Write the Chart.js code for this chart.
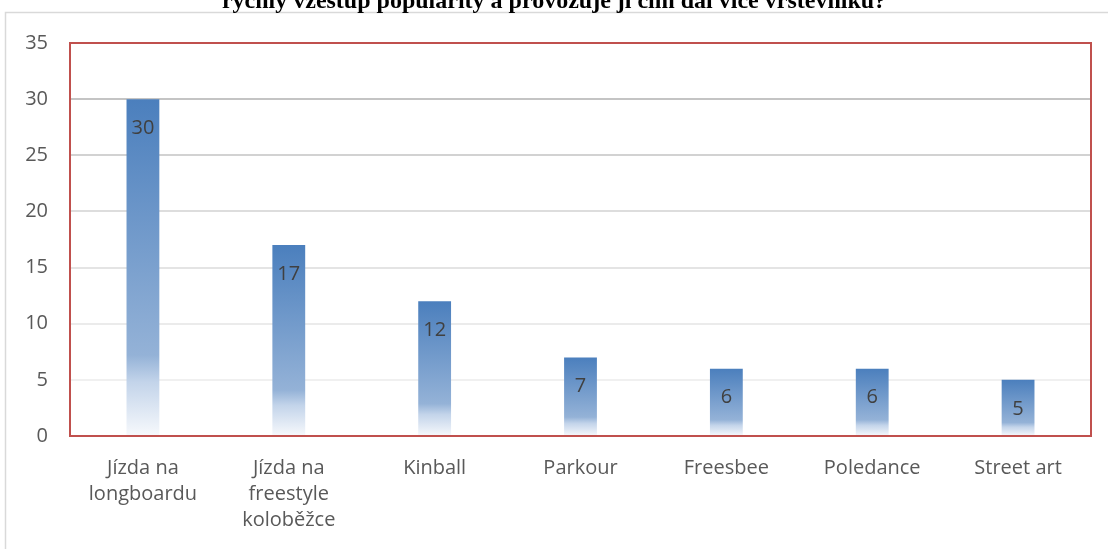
<!DOCTYPE html>
<html>
<head>
<meta charset="utf-8">
<script src="https://cdn.jsdelivr.net/npm/chart.js@4"></script>
<style>
html,body{margin:0;padding:0;background:#fff;}
#wrap{width:1108px;height:549px;position:relative;}
</style>
</head>
<body>
<div id="wrap"><canvas id="c" width="1108" height="549"></canvas></div>
<script>
const titleText = "rychlý vzestup popularity a provozuje ji čím dál více vrstevníků?";
const categories = [["Jízda na","longboardu"],["Jízda na","freestyle","koloběžce"],"Kinball","Parkour","Freesbee","Poledance","Street art"];
const values = [30,17,12,7,6,6,5];
const yTicks = [0,5,10,15,20,25,30,35];
const gridColors = {5:"#f0f0f0",10:"#ebebeb",15:"#e4e4e4",20:"#dddddd",25:"#d2d2d2",30:"#c4c4c4",35:"rgba(0,0,0,0)",0:"rgba(0,0,0,0)"};

const FONT = "'Open Sans', 'Liberation Sans', sans-serif";

function barGradient(context){
  const chart = context.chart;
  if (!chart.chartArea || context.type !== 'data') return '#4f81bd';
  const ys = chart.scales.y;
  const top = ys.getPixelForValue(context.raw);
  const bottom = ys.getPixelForValue(0);
  if (!isFinite(top) || !isFinite(bottom) || top === bottom) return '#4f81bd';
  const g = chart.ctx.createLinearGradient(0, top, 0, bottom);
  g.addColorStop(0, '#4b7fbd');
  g.addColorStop(0.76, '#94b2d7');
  g.addColorStop(0.84, '#c3d4ea');
  g.addColorStop(1, '#f7f9fc');
  return g;
}

const decor = {
  id: 'decor',
  beforeDraw(chart){
    const c = chart.ctx;
    c.save();
    c.fillStyle = '#fff';
    c.fillRect(0,0,chart.width,chart.height);
    c.strokeStyle = '#d9d9d9';
    c.lineWidth = 1.5;
    c.strokeRect(5.5, 12.5, chart.width + 10, chart.height + 10);
    c.fillStyle = '#000';
    c.font = "bold 24px 'Liberation Serif', serif";
    c.textAlign = 'center';
    c.textBaseline = 'alphabetic';
    c.fillText(titleText, 554, 8);
    c.restore();
  },
  afterDatasetsDraw(chart){
    const c = chart.ctx;
    const a = chart.chartArea;
    c.save();
    const meta = chart.getDatasetMeta(0);
    c.fillStyle = '#404040';
    c.font = "20px " + FONT;
    c.textAlign = 'center';
    c.textBaseline = 'middle';
    meta.data.forEach((el, i) => {
      c.fillText(String(values[i]), el.x, el.y + 29);
    });
    c.strokeStyle = '#c0504d';
    c.lineWidth = 2;
    c.strokeRect(a.left, a.top, a.right - a.left, a.bottom - a.top);
    c.restore();
  }
};

new Chart(document.getElementById('c'), {
  type: 'bar',
  data: {
    labels: categories,
    datasets: [{
      data: values,
      backgroundColor: barGradient,
      borderWidth: 0,
      barPercentage: 0.45,
      categoryPercentage: 0.5
    }]
  },
  options: {
    responsive: false,
    animation: false,
    devicePixelRatio: 1,
    layout: { padding: { top: 43, right: 17, left: 0, bottom: 0 } },
    plugins: { legend: { display: false }, tooltip: { enabled: false }, title: { display: false } },
    scales: {
      x: {
        grid: { display: false, drawTicks: false },
        border: { display: false },
        ticks: { color: '#595959', font: { family: FONT, size: 20, lineHeight: 1.3 }, padding: 19, maxRotation: 0, autoSkip: false },
        afterFit(scale){ scale.height = 113; }
      },
      y: {
        min: 0, max: 35,
        afterBuildTicks(scale){ scale.ticks = yTicks.map(v => ({ value: v })); },
        grid: { color: ctx => gridColors[ctx.tick ? ctx.tick.value : 0] || '#e0e0e0', lineWidth: 2, drawTicks: false },
        border: { display: false },
        ticks: { color: '#595959', font: { family: FONT, size: 20 }, padding: 22 },
        afterFit(scale){ scale.width = 70; }
      }
    }
  },
  plugins: [decor]
});
</script>
</body>
</html>
